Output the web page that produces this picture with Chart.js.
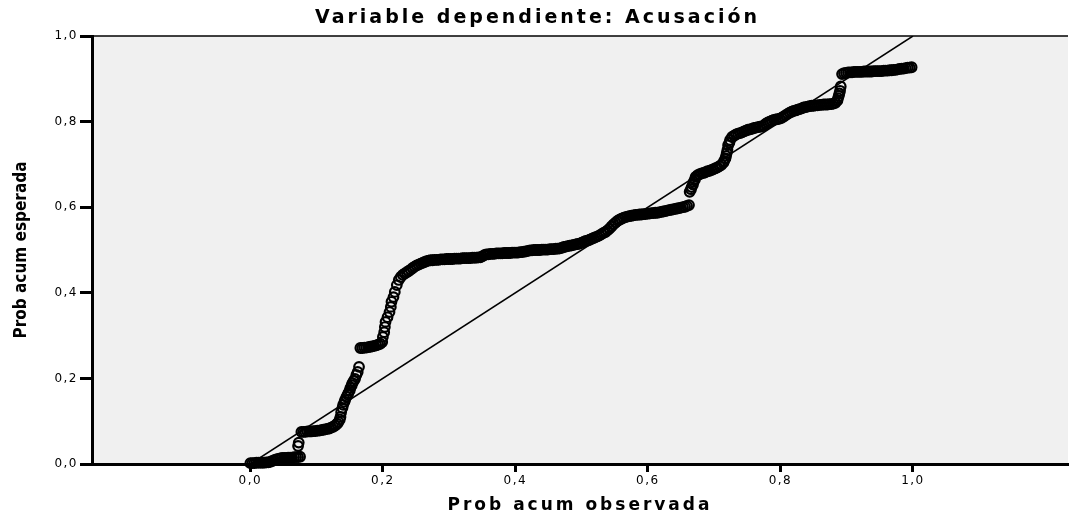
<!DOCTYPE html>
<html>
<head>
<meta charset="utf-8">
<script src="https://cdn.jsdelivr.net/npm/chart.js@4.4.1/dist/chart.umd.min.js"></script>
<style>
  html, body { margin: 0; padding: 0; background: #ffffff; }
  #wrap { width: 1075px; height: 516px; position: relative; }
</style>
</head>
<body>
<div id="wrap"><canvas id="chart"></canvas></div>
<script>
const obsProb = [
  0.000, 0.003, 0.006, 0.009, 0.012, 0.015, 0.018, 0.021, 0.024, 0.027, 0.030, 0.033, 0.036, 0.039, 0.042, 0.045,
  0.048, 0.051, 0.054, 0.057, 0.060, 0.063, 0.066, 0.069, 0.072, 0.075,
  0.072, 0.073,
  0.077, 0.080, 0.083, 0.086, 0.089, 0.092, 0.095, 0.098, 0.101, 0.104, 0.107, 0.110, 0.113, 0.116, 0.119, 0.122,
  0.125, 0.128,
  0.131, 0.133, 0.135, 0.136, 0.137, 0.139, 0.140, 0.142, 0.143, 0.145, 0.147, 0.148, 0.150, 0.151, 0.153, 0.154,
  0.156, 0.158, 0.160, 0.162, 0.164,
  0.166, 0.169, 0.172, 0.175, 0.178, 0.181, 0.184, 0.187, 0.190, 0.193, 0.196, 0.199,
  0.200, 0.202, 0.203, 0.204, 0.207, 0.210, 0.212, 0.213, 0.216, 0.218, 0.221, 0.224, 0.227, 0.230, 0.233, 0.236,
  0.239, 0.242, 0.245, 0.248, 0.251, 0.254, 0.257, 0.260, 0.263,
  0.266, 0.269, 0.272, 0.275, 0.278, 0.281, 0.284, 0.287, 0.290, 0.293, 0.296, 0.299, 0.302, 0.305, 0.308, 0.311,
  0.314, 0.317, 0.320, 0.323, 0.326, 0.329, 0.332, 0.335, 0.338, 0.341, 0.344, 0.347, 0.350,
  0.353, 0.356, 0.359, 0.362, 0.365, 0.368, 0.371, 0.374, 0.377, 0.380, 0.383, 0.386, 0.389, 0.392, 0.395, 0.398,
  0.401, 0.404, 0.407, 0.410, 0.413, 0.416, 0.419,
  0.422, 0.425, 0.428, 0.431, 0.434, 0.437, 0.440, 0.443, 0.446, 0.449, 0.452, 0.455, 0.458, 0.461, 0.464, 0.467,
  0.470,
  0.473, 0.476, 0.479, 0.482, 0.485, 0.488, 0.491, 0.494, 0.497, 0.500, 0.503, 0.506, 0.509, 0.512, 0.515, 0.518,
  0.521, 0.524, 0.527, 0.530, 0.533, 0.536, 0.539, 0.542, 0.545, 0.548, 0.551, 0.554, 0.557, 0.560, 0.563, 0.566,
  0.569, 0.572, 0.575, 0.578,
  0.581, 0.584, 0.587, 0.590, 0.593, 0.596, 0.599, 0.602, 0.605, 0.608, 0.611, 0.614, 0.617, 0.620, 0.623, 0.626,
  0.629, 0.632, 0.635, 0.638, 0.641, 0.644, 0.647, 0.650, 0.653, 0.656, 0.659, 0.662,
  0.663, 0.665, 0.666, 0.668, 0.669, 0.671, 0.672,
  0.675, 0.678, 0.681, 0.684, 0.687, 0.690, 0.693, 0.696, 0.699, 0.702, 0.705, 0.708, 0.711,
  0.714, 0.715, 0.717, 0.718, 0.719, 0.720, 0.721, 0.723, 0.724,
  0.727, 0.730, 0.733, 0.736, 0.739, 0.742, 0.745, 0.748, 0.751, 0.754, 0.757, 0.760, 0.763, 0.766, 0.769, 0.772,
  0.775, 0.778, 0.781, 0.784, 0.787, 0.790, 0.793, 0.796, 0.799, 0.802, 0.805, 0.808, 0.811, 0.814, 0.817, 0.820,
  0.823, 0.826, 0.829, 0.832, 0.835, 0.838, 0.841, 0.844, 0.847, 0.850, 0.853, 0.856, 0.859, 0.862, 0.865, 0.868,
  0.871, 0.874, 0.877, 0.880, 0.883,
  0.886, 0.887, 0.888, 0.889, 0.890, 0.891,
  0.893, 0.896, 0.899, 0.902, 0.905, 0.908, 0.911, 0.914, 0.917, 0.920, 0.923, 0.926, 0.929, 0.932, 0.935, 0.938,
  0.941, 0.944, 0.947, 0.950, 0.953, 0.956, 0.959, 0.962, 0.965, 0.968, 0.971, 0.974, 0.977, 0.980, 0.983, 0.986,
  0.989, 0.992, 0.995, 0.998
];
const expProb = [
  0.002, 0.002, 0.002, 0.003, 0.003, 0.003, 0.003, 0.003, 0.004, 0.004, 0.005, 0.007, 0.009, 0.011, 0.012, 0.013,
  0.014, 0.014, 0.014, 0.015, 0.015, 0.015, 0.016, 0.016, 0.016, 0.017,
  0.042, 0.050,
  0.075, 0.075, 0.075, 0.076, 0.076, 0.076, 0.077, 0.077, 0.078, 0.078, 0.079, 0.080, 0.081, 0.082, 0.083, 0.085,
  0.087, 0.090,
  0.094, 0.098, 0.104, 0.110, 0.121, 0.131, 0.138, 0.145, 0.150, 0.157, 0.162, 0.166, 0.172, 0.178, 0.184, 0.189,
  0.194, 0.199, 0.208, 0.215, 0.227,
  0.271, 0.271, 0.272, 0.272, 0.273, 0.274, 0.275, 0.276, 0.277, 0.279, 0.281, 0.285,
  0.297, 0.308, 0.320, 0.332, 0.343, 0.355, 0.367, 0.379, 0.390, 0.402, 0.418, 0.430, 0.437, 0.442, 0.445, 0.448,
  0.451, 0.454, 0.458, 0.461, 0.464, 0.466, 0.468, 0.470, 0.472,
  0.474, 0.475, 0.476, 0.476, 0.477, 0.477, 0.477, 0.478, 0.478, 0.478, 0.479, 0.479, 0.479, 0.479, 0.480, 0.480,
  0.480, 0.480, 0.481, 0.481, 0.481, 0.481, 0.481, 0.482, 0.482, 0.482, 0.483, 0.483, 0.485,
  0.488, 0.490, 0.490, 0.491, 0.491, 0.491, 0.492, 0.492, 0.492, 0.492, 0.493, 0.493, 0.493, 0.493, 0.494, 0.494,
  0.494, 0.494, 0.495, 0.495, 0.496, 0.497, 0.498,
  0.499, 0.499, 0.500, 0.500, 0.500, 0.500, 0.501, 0.501, 0.501, 0.501, 0.502, 0.502, 0.502, 0.503, 0.503, 0.504,
  0.505,
  0.507, 0.508, 0.509, 0.510, 0.511, 0.512, 0.513, 0.514, 0.515, 0.517, 0.519, 0.521, 0.522, 0.524, 0.526, 0.528,
  0.530, 0.532, 0.534, 0.537, 0.540, 0.542, 0.546, 0.550, 0.555, 0.560, 0.564, 0.568, 0.571, 0.573, 0.575, 0.577,
  0.578, 0.579, 0.580, 0.581,
  0.582, 0.582, 0.583, 0.583, 0.584, 0.584, 0.585, 0.585, 0.586, 0.586, 0.587, 0.587, 0.588, 0.589, 0.590, 0.591,
  0.592, 0.593, 0.594, 0.595, 0.596, 0.597, 0.598, 0.599, 0.600, 0.601, 0.603, 0.605,
  0.636, 0.642, 0.647, 0.653, 0.659, 0.665, 0.671,
  0.675, 0.677, 0.679, 0.680, 0.682, 0.684, 0.685, 0.687, 0.689, 0.691, 0.693, 0.696, 0.699,
  0.704, 0.708, 0.714, 0.720, 0.727, 0.734, 0.745, 0.751, 0.757,
  0.764, 0.767, 0.770, 0.772, 0.773, 0.775, 0.777, 0.779, 0.781, 0.782, 0.783, 0.785, 0.786, 0.787, 0.788, 0.789,
  0.791, 0.795, 0.798, 0.800, 0.802, 0.804, 0.805, 0.806, 0.807, 0.809, 0.812, 0.815, 0.818, 0.821, 0.823, 0.825,
  0.826, 0.828, 0.829, 0.831, 0.833, 0.834, 0.835, 0.836, 0.837, 0.837, 0.838, 0.838, 0.839, 0.839, 0.840, 0.840,
  0.840, 0.841, 0.841, 0.842, 0.844,
  0.849, 0.855, 0.860, 0.866, 0.872, 0.882,
  0.911, 0.913, 0.914, 0.915, 0.915, 0.915, 0.916, 0.916, 0.916, 0.916, 0.916, 0.917, 0.917, 0.917, 0.917, 0.917,
  0.918, 0.918, 0.918, 0.918, 0.918, 0.919, 0.919, 0.919, 0.920, 0.920, 0.921, 0.921, 0.922, 0.923, 0.924, 0.924,
  0.925, 0.926, 0.926, 0.927
];
// reference diagonal
const diagX = [0, 1];
const diagY = [0, 1];
const xTicks = [0, 0.2, 0.4, 0.6, 0.8, 1.0];

if (obsProb.length !== expProb.length) console.error('length mismatch', obsProb.length, expProb.length);

const plotBg = '#f0f0f0';
const fmt = v => Number(v).toFixed(1).replace('.', ',');

// gray plot area + thin top frame line
const plotFrame = {
  id: 'plotFrame',
  beforeDraw(chart) {
    const { ctx, chartArea: a } = chart;
    ctx.save();
    ctx.fillStyle = plotBg;
    ctx.fillRect(a.left, a.top, a.right - a.left, a.bottom - a.top);
    ctx.strokeStyle = '#000';
    ctx.lineWidth = 1.5;
    ctx.beginPath();
    ctx.moveTo(a.left, a.top);
    ctx.lineTo(a.right, a.top);
    ctx.stroke();
    ctx.restore();
  }
};

// the SPSS text is drawn wide, so add some letter spacing per text block
const spacing = {
  id: 'spacing',
  beforeDraw(chart) {
    const ctx = chart.ctx;
    const wrap = (obj, name, sp) => {
      if (!obj || obj['_sp_' + name]) return;
      const fn = obj[name];
      obj[name] = function (...args) {
        ctx.letterSpacing = sp;
        fn.apply(this, args);
        ctx.letterSpacing = '0px';
      };
      obj['_sp_' + name] = true;
    };
    wrap(chart.titleBlock, 'draw', '3px');
    wrap(chart.scales.x, 'drawLabels', '1.5px');
    wrap(chart.scales.x, 'drawTitle', '3px');
    wrap(chart.scales.y, 'drawLabels', '1.5px');
  }
};

const points = obsProb.map((x, i) => ({ x: x, y: expProb[i] }));
const diag = diagX.map((x, i) => ({ x: x, y: diagY[i] }));

new Chart(document.getElementById('chart'), {
  type: 'scatter',
  data: {
    datasets: [
      {
        type: 'line',
        data: diag,
        borderColor: '#000',
        borderWidth: 1.5,
        pointRadius: 0,
        fill: false,
        order: 0
      },
      {
        data: points,
        pointStyle: 'circle',
        pointRadius: 4.8,
        pointBorderWidth: 2.2,
        pointBorderColor: '#000',
        pointBackgroundColor: 'rgba(0,0,0,0)',
        clip: false,
        order: 1
      }
    ]
  },
  plugins: [plotFrame, spacing],
  options: {
    responsive: true,
    maintainAspectRatio: false,
    animation: false,
    layout: { padding: 0 },
    plugins: {
      legend: { display: false },
      tooltip: { enabled: false },
      title: {
        display: true,
        text: 'Variable dependiente: Acusación',
        color: '#000',
        font: { family: 'DejaVu Sans', size: 19, weight: 'bold', lineHeight: 1.2 },
        padding: { top: 7, bottom: 6.2 }
      }
    },
    scales: {
      x: {
        type: 'linear',
        min: -0.239,
        max: 1.234,
        afterBuildTicks: s => { s.ticks = xTicks.map(v => ({ value: v })); },
        afterFit: s => { s.height = 52; },
        grid: {
          display: true,
          drawOnChartArea: false,
          drawTicks: true,
          tickLength: 8,
          tickWidth: 3,
          tickColor: '#000'
        },
        border: { display: true, color: '#000', width: 3 },
        ticks: {
          color: '#000',
          padding: 2,
          maxRotation: 0,
          font: { family: 'DejaVu Sans', size: 12 },
          callback: v => fmt(v)
        },
        title: {
          display: true,
          text: 'Prob acum observada',
          color: '#000',
          font: { family: 'DejaVu Sans', size: 17, weight: 'bold', lineHeight: 1.2 },
          padding: { top: 0, bottom: 0 }
        }
      },
      y: {
        type: 'linear',
        min: 0,
        max: 1,
        ticks: {
          stepSize: 0.2,
          color: '#000',
          padding: 2,
          font: { family: 'DejaVu Sans', size: 12 },
          callback: v => fmt(v)
        },
        afterFit: s => { s.width = 92; },
        grid: {
          display: true,
          drawOnChartArea: false,
          drawTicks: true,
          tickLength: 12,
          tickWidth: 3,
          tickColor: '#000'
        },
        border: { display: true, color: '#000', width: 3 },
        title: {
          display: true,
          text: 'Prob acum esperada',
          color: '#000',
          font: { family: "'DejaVu Sans Condensed', 'Liberation Sans Narrow', 'Liberation Sans', sans-serif", size: 17, weight: 'bold', lineHeight: 1.2 },
          padding: { top: 11, bottom: 0 }
        }
      }
    }
  }
});
</script>
</body>
</html>
